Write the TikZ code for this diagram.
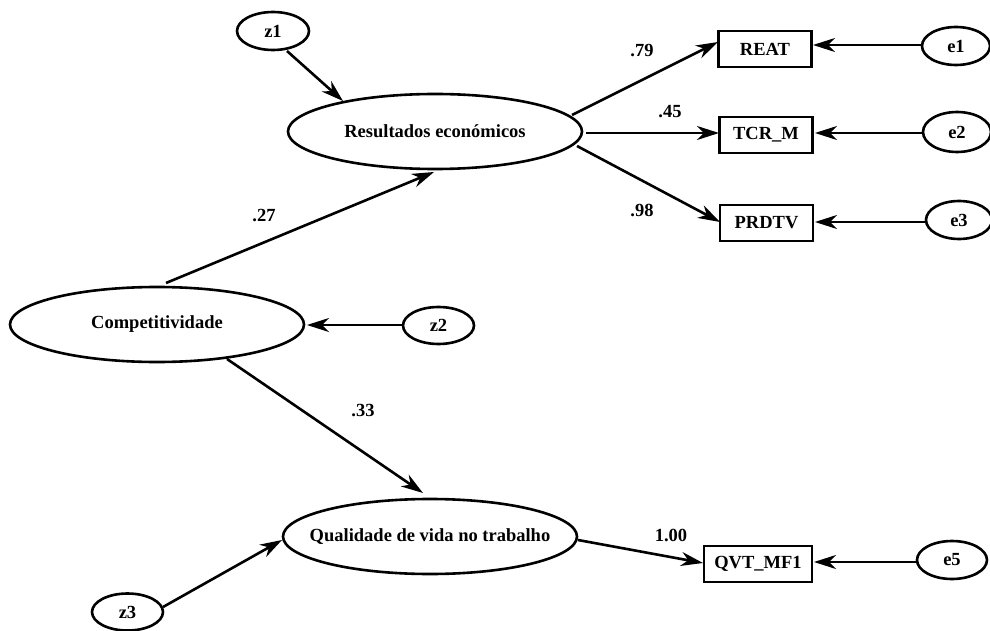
\documentclass[tikz,border=0pt]{standalone}
\usepackage{fontspec}
\setmainfont{Liberation Serif}
\usetikzlibrary{shapes.geometric,arrows.meta,calc}
\newcommand{\ztext}[1]{\makebox[0pt]{#1}}
\begin{document}
\begin{tikzpicture}[x=1pt,y=-1pt,
  every node/.style={font=\fontsize{18.5}{20}\selectfont\bfseries},
  lat/.style={draw,ellipse,line width=2.6pt,inner sep=0pt,minimum width=294pt,minimum height=75pt},
  err/.style={draw,ellipse,line width=2.6pt,inner sep=0pt,minimum width=71pt,minimum height=37pt},
  obs/.style={draw,rectangle,line width=2.8pt,inner sep=0pt,minimum width=93pt,minimum height=36pt},
  lbl/.style={inner sep=0pt},
  arr/.style={line width=2.6pt,-{Stealth[length=22pt,width=14pt,inset=7pt]}}]
\useasboundingbox (0,0) rectangle (990,631);
% latent variables
\node[lat] (res) at (435,131.5) {\ztext{Resultados económicos}};
\node[lat] (comp) at (157,324.5) {\ztext{Competitividade}};
\node[lat] (qual) at (430,536.5) {\ztext{Qualidade de vida no trabalho}};
% disturbances
\node[err,minimum width=72pt,minimum height=38pt] (z1) at (273,31) {\ztext{z1}};
\node[err] (z2) at (438.5,325.5) {\ztext{z2}};
\node[err] (z3) at (127.5,612) {\ztext{z3}};
% observed
\node[obs] (reat) at (765,49) {REAT};
\node[obs] (tcr) at (766,135) {TCR\_M};
\node[obs] (prd) at (766.5,223) {PRDTV};
\node[obs,minimum width=108pt] (qvt) at (758,564) {QVT\_MF1};
% errors
\node[err,minimum width=68pt,minimum height=38pt] (e1) at (956,46) {\ztext{e1}};
\node[err,minimum width=68pt,minimum height=40pt] (e2) at (957,132) {\ztext{e2}};
\node[err,minimum width=66pt,minimum height=38pt] (e3) at (959,220) {\ztext{e3}};
\node[err,minimum width=70pt,minimum height=38pt] (e5) at (952,560) {\ztext{e5}};
% connectors
\draw[arr] ($(z1)+(14,20)$) -- ($(res)+(-92,-30.5)$);
\draw[arr] ($(comp)+(9,-41.5)$) -- ($(res)+(-1,40.5)$);
\draw[arr] ($(res)+(137,-16.5)$) -- ($(reat)+(-47,-7)$);
\draw[arr] ($(res)+(151,1.5)$) -- ($(tcr)+(-47,-2)$);
\draw[arr] ($(res)+(142,14.5)$) -- ($(prd)+(-46.5,-1)$);
\draw[arr] ($(comp)+(70,34.5)$) -- ($(qual)+(-7,-43.5)$);
\draw[arr] ($(z3)+(35.5,-5)$) -- ($(qual)+(-148,3.5)$);
\draw[arr] ($(qual)+(148,3.5)$) -- ($(qvt)+(-55,-1)$);
\draw[arr] ($(e1)+(-34,-1)$) -- ($(reat)+(48,-4)$);
\draw[arr] ($(e2)+(-34,1)$) -- ($(tcr)+(49,-2)$);
\draw[arr] ($(e3)+(-33,2)$) -- ($(prd)+(48.5,-1)$);
\draw[arr] ($(e5)+(-35,2)$) -- ($(qvt)+(56,-2)$);
\draw[arr] ($(z2)+(-36.5,-0.5)$) -- ($(comp)+(150,0.5)$);
% labels
\node[lbl] (l79) at (642,51) {.79};
\node[lbl] (l45) at (670,112) {.45};
\node[lbl] (l98) at (642,210) {.98};
\node[lbl] (l27) at (264,216) {.27};
\node[lbl] (l33) at (363,411) {.33};
\node[lbl] (l100) at (671,535.5) {1.00};
\end{tikzpicture}
\end{document}
